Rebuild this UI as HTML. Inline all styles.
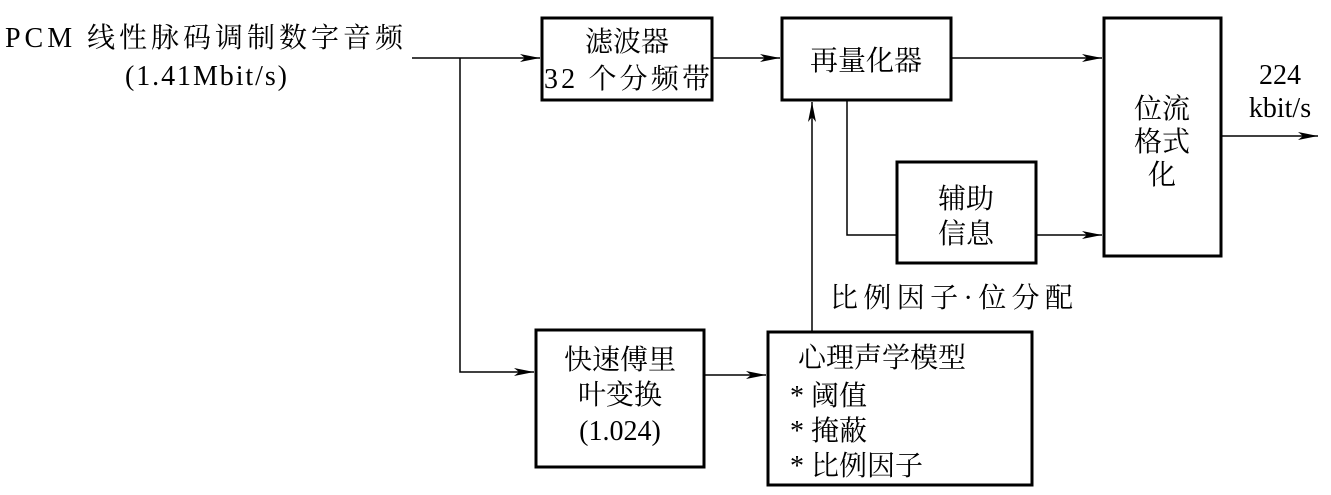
<!DOCTYPE html>
<html><head><meta charset="utf-8"><style>
html,body{margin:0;padding:0;background:#fff;}
svg{display:block;}
text{font-family:"Liberation Serif","Noto Serif CJK SC","Noto Sans CJK SC",serif;fill:#000;font-size:28px;}
</style></head><body>
<svg width="1331" height="495" viewBox="0 0 1331 495" xmlns="http://www.w3.org/2000/svg">
<defs>
<marker id="a" viewBox="0 0 20 10" refX="20" refY="5" markerWidth="20" markerHeight="10" markerUnits="userSpaceOnUse" orient="auto">
<path d="M0,1 L20,5 L0,9 L5,5 Z" fill="#000"/>
</marker>
</defs>
<g fill="none" stroke="#000">
<rect x="542" y="18" width="170" height="82" stroke-width="3"/>
<rect x="782" y="18" width="169" height="82" stroke-width="3"/>
<rect x="1104" y="18" width="117" height="238" stroke-width="3"/>
<rect x="897" y="162" width="139" height="101" stroke-width="3"/>
<rect x="536" y="330" width="168" height="137" stroke-width="3"/>
<rect x="768" y="332" width="264" height="153" stroke-width="3"/>
<g stroke-width="1.5">
<line x1="412" y1="58" x2="540" y2="58" marker-end="url(#a)"/>
<line x1="712" y1="58" x2="780" y2="58" marker-end="url(#a)"/>
<line x1="951" y1="58" x2="1102" y2="58" marker-end="url(#a)"/>
<polyline points="460,58 460,372 534,372" marker-end="url(#a)"/>
<line x1="704" y1="375" x2="766" y2="375" marker-end="url(#a)"/>
<line x1="812" y1="332" x2="812" y2="102" marker-end="url(#a)"/>
<polyline points="847,100 847,235 897,235"/>
<line x1="1036" y1="235" x2="1102" y2="235" marker-end="url(#a)"/>
<line x1="1221" y1="136" x2="1318" y2="136" marker-end="url(#a)"/>
</g>
</g>
<text x="5" y="47" textLength="398">PCM 线性脉码调制数字音频</text>
<text x="125" y="85" textLength="162">(1.41Mbit/s)</text>
<text x="627" y="51" text-anchor="middle">滤波器</text>
<text x="544" y="88" textLength="166">32 个分频带</text>
<text x="866" y="70" text-anchor="middle">再量化器</text>
<text x="1162" y="118" text-anchor="middle">位流</text>
<text x="1162" y="151" text-anchor="middle">格式</text>
<text x="1162" y="184" text-anchor="middle">化</text>
<text x="1280" y="84" text-anchor="middle">224</text>
<text x="1280" y="117" text-anchor="middle">kbit/s</text>
<text x="966" y="208" text-anchor="middle">辅助</text>
<text x="966" y="243" text-anchor="middle">信息</text>
<text x="830" y="307" textLength="243">比例因子·位分配</text>
<text x="620" y="369" text-anchor="middle">快速傅里</text>
<text x="620" y="404" text-anchor="middle">叶变换</text>
<text x="620" y="440" text-anchor="middle">(1.024)</text>
<text x="798" y="367">心理声学模型</text>
<text x="790" y="405">* 阈值</text>
<text x="790" y="440">* 掩蔽</text>
<text x="790" y="475">* 比例因子</text>
</svg>
</body></html>
